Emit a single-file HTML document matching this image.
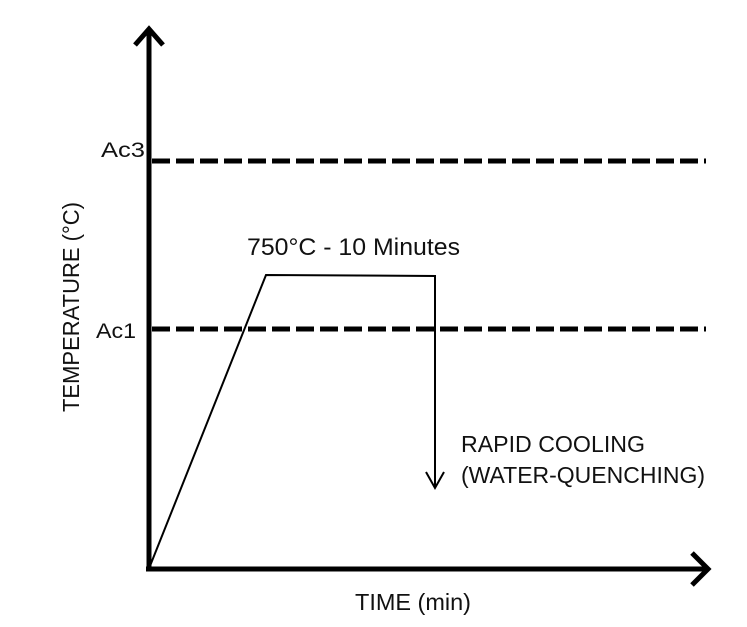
<!DOCTYPE html>
<html><head><meta charset="utf-8"><style>
html,body{margin:0;padding:0;background:#fff;}
svg{display:block;}
text{font-family:"Liberation Sans",sans-serif;fill:#111;}
</style></head><body>
<svg width="747" height="627" viewBox="0 0 747 627" xmlns="http://www.w3.org/2000/svg">
<rect width="747" height="627" fill="#fff"/>
<!-- axes -->
<line x1="149" y1="32" x2="149" y2="571" stroke="#000" stroke-width="5"/>
<line x1="146" y1="569" x2="706" y2="569" stroke="#000" stroke-width="5"/>
<polyline points="135,45 149,29 163,45" fill="none" stroke="#000" stroke-width="5" stroke-linejoin="miter"/>
<polyline points="692,553 708,569 692,585" fill="none" stroke="#000" stroke-width="5"/>
<!-- dashed lines -->
<line x1="152" y1="161" x2="706" y2="161" stroke="#000" stroke-width="5" stroke-dasharray="18 6"/>
<line x1="152" y1="329" x2="706" y2="329" stroke="#000" stroke-width="5" stroke-dasharray="18 6"/>
<!-- curve -->
<polyline points="150,566 266,275 435,276 435,487" fill="none" stroke="#000" stroke-width="2"/>
<polyline points="426,472 435,488 444,472" fill="none" stroke="#000" stroke-width="2"/>
<!-- labels -->
<text x="101" y="157" font-size="21" textLength="44" lengthAdjust="spacingAndGlyphs">Ac3</text>
<text x="96" y="338" font-size="21" textLength="40" lengthAdjust="spacingAndGlyphs">Ac1</text>
<text x="247" y="255" font-size="24" textLength="213" lengthAdjust="spacingAndGlyphs">750°C - 10 Minutes</text>
<text x="461" y="452" font-size="23" textLength="184" lengthAdjust="spacingAndGlyphs">RAPID COOLING</text>
<text x="461" y="483" font-size="23" textLength="244" lengthAdjust="spacingAndGlyphs">(WATER-QUENCHING)</text>
<text x="355" y="610" font-size="23" textLength="116" lengthAdjust="spacingAndGlyphs">TIME (min)</text>
<text transform="translate(79,412) rotate(-90)" font-size="23" textLength="210" lengthAdjust="spacingAndGlyphs">TEMPERATURE (°C)</text>
</svg>
</body></html>
